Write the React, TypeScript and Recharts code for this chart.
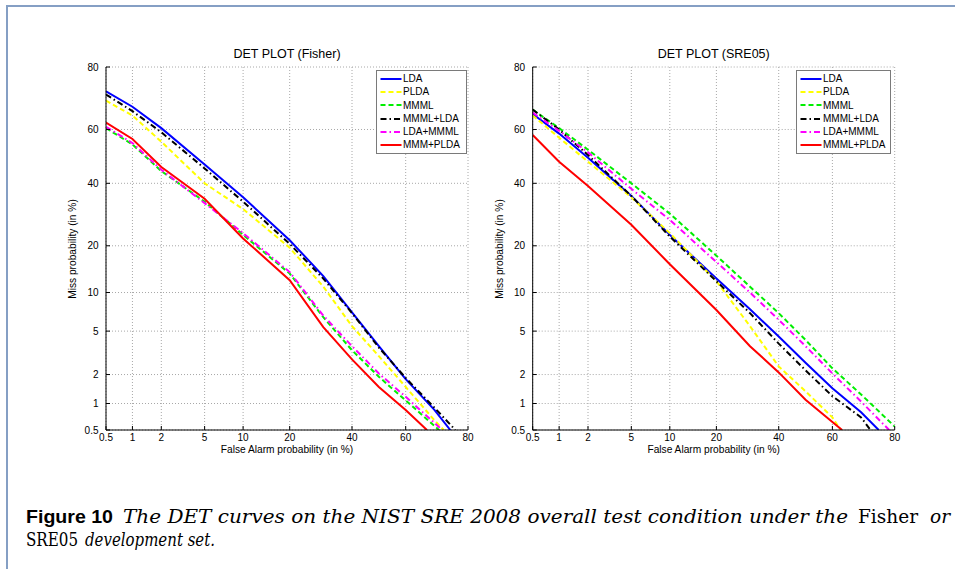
import React from 'react';
import { LineChart, Line, XAxis, YAxis, CartesianGrid, Legend } from 'recharts';

// DET axes: tick labels in %, plotted on a normal-deviate (probit) scale
const detTicks = [0.5, 1, 2, 5, 10, 20, 40, 60, 80];

// Fisher development set: [false alarm %, miss %]
const fisherLDA: [number, number][] = [[0.5, 73], [1, 68], [2, 60.5], [5, 47], [10, 35], [20, 21.5], [30, 13], [40, 7.1], [50, 3.7], [60, 1.8], [70, 0.85], [75, 0.5]];
const fisherPLDA: [number, number][] = [[0.5, 70], [1, 65], [2, 55.5], [5, 40], [10, 31], [20, 19.5], [30, 11], [40, 5.5], [50, 3], [60, 1.5], [70, 0.65], [73, 0.5]];
const fisherMMML: [number, number][] = [[0.5, 60.5], [1, 54.5], [2, 44.5], [5, 33.5], [10, 23], [20, 13.5], [30, 6.5], [40, 3.4], [50, 1.9], [60, 1.08], [71.5, 0.5]];
const fisherMMMLLDA: [number, number][] = [[0.5, 72], [1, 66.5], [2, 59], [5, 45.5], [10, 33.5], [20, 20.5], [30, 12.5], [40, 7], [50, 3.6], [60, 1.85], [70, 0.9], [76.5, 0.5]];
const fisherLDAMMML: [number, number][] = [[0.5, 61], [1, 55], [2, 45], [5, 33], [10, 23.5], [20, 13.8], [30, 6.7], [40, 3.7], [50, 2.05], [60, 1.18], [72.5, 0.5]];
const fisherMMMPLDA: [number, number][] = [[0.5, 62.5], [1, 56.5], [2, 46], [5, 34.5], [10, 22], [20, 12.2], [30, 5.4], [40, 2.8], [50, 1.5], [60, 0.85], [67.5, 0.5]];

// SRE05 development set
const sreLDA: [number, number][] = [[0.5, 65.5], [1, 58.5], [2, 49.5], [5, 35.5], [10, 23], [20, 12.5], [30, 7.5], [40, 4.5], [50, 2.6], [60, 1.45], [70, 0.8], [75.5, 0.5]];
const srePLDA: [number, number][] = [[0.5, 65], [1, 57], [2, 48], [5, 35], [10, 23.5], [20, 12], [30, 5.5], [40, 2.4], [50, 1.35], [60, 0.7], [63, 0.5]];
const sreMMML: [number, number][] = [[0.5, 67], [1, 60.5], [2, 52.5], [5, 40], [10, 29.5], [20, 17.5], [30, 11], [40, 7], [50, 4.2], [60, 2.3], [70, 1.25], [80, 0.55]];
const sreMMMLLDA: [number, number][] = [[0.5, 67], [1, 60], [2, 50.5], [5, 35.5], [10, 22.5], [20, 12], [30, 7], [40, 3.9], [50, 2.2], [60, 1.2], [70, 0.7], [73, 0.5]];
const sreLDAMMML: [number, number][] = [[0.5, 66], [1, 59.5], [2, 51.5], [5, 38], [10, 27.5], [20, 16], [30, 10], [40, 6.2], [50, 3.7], [60, 2.05], [70, 1.05], [78.5, 0.5]];
const sreMMMLPLDA: [number, number][] = [[0.5, 58], [1, 48], [2, 39], [5, 26], [10, 15.5], [20, 7.4], [30, 3.7], [40, 2.1], [50, 1.1], [60, 0.62], [63.5, 0.5]];

const SANS = '"Liberation Sans", Arial, Helvetica, sans-serif';
const SERIF = '"DejaVu Serif", serif';

// inverse normal CDF (Acklam), input in percent
function probit(pct: number): number {
  const p = pct / 100;
  const a = [-39.69683028665376, 220.9460984245205, -275.9285104469687, 138.357751867269, -30.66479806614716, 2.506628277459239];
  const b = [-54.47609879822406, 161.5858368580409, -155.6989798598866, 66.80131188771972, -13.28068155288572];
  const c = [-0.007784894002430293, -0.3223964580411365, -2.400758277161838, -2.549732539343734, 4.374664141464968, 2.938163982698783];
  const d = [0.007784695709041462, 0.3224671290700398, 2.445134137142996, 3.754408661907416];
  const lo = 0.02425;
  if (p < lo) {
    const q = Math.sqrt(-2 * Math.log(p));
    return (((((c[0] * q + c[1]) * q + c[2]) * q + c[3]) * q + c[4]) * q + c[5]) / ((((d[0] * q + d[1]) * q + d[2]) * q + d[3]) * q + 1);
  }
  if (p > 1 - lo) {
    const q = Math.sqrt(-2 * Math.log(1 - p));
    return -(((((c[0] * q + c[1]) * q + c[2]) * q + c[3]) * q + c[4]) * q + c[5]) / ((((d[0] * q + d[1]) * q + d[2]) * q + d[3]) * q + 1);
  }
  const q = p - 0.5;
  const r = q * q;
  return ((((((a[0] * r + a[1]) * r + a[2]) * r + a[3]) * r + a[4]) * r + a[5]) * q) / (((((b[0] * r + b[1]) * r + b[2]) * r + b[3]) * r + b[4]) * r + 1);
}

const tickPos = detTicks.map(probit);
const domain: [number, number] = [tickPos[0], tickPos[tickPos.length - 1]];
const tickLabel = (v: number) => {
  let best = 0;
  tickPos.forEach((t, i) => { if (Math.abs(t - v) < Math.abs(tickPos[best] - v)) best = i; });
  return String(detTicks[best]);
};
const blank = () => '';

const toPts = (pts: [number, number][]) => pts.map(([fa, miss]) => ({ x: probit(fa), y: probit(miss) }));

type Series = { name: string; color: string; dash?: string; points: [number, number][] };

const DASH = '5 3';
const DASHDOT = '6 3 1.5 3';

const fisherSeries: Series[] = [
  { name: 'LDA', color: '#0000ff', points: fisherLDA },
  { name: 'PLDA', color: '#ffff00', dash: DASH, points: fisherPLDA },
  { name: 'MMML', color: '#00ee00', dash: DASH, points: fisherMMML },
  { name: 'MMML+LDA', color: '#000000', dash: DASHDOT, points: fisherMMMLLDA },
  { name: 'LDA+MMML', color: '#ff00ff', dash: DASHDOT, points: fisherLDAMMML },
  { name: 'MMM+PLDA', color: '#ff0000', points: fisherMMMPLDA },
];

const sreSeries: Series[] = [
  { name: 'LDA', color: '#0000ff', points: sreLDA },
  { name: 'PLDA', color: '#ffff00', dash: DASH, points: srePLDA },
  { name: 'MMML', color: '#00ee00', dash: DASH, points: sreMMML },
  { name: 'MMML+LDA', color: '#000000', dash: DASHDOT, points: sreMMMLLDA },
  { name: 'LDA+MMML', color: '#ff00ff', dash: DASHDOT, points: sreLDAMMML },
  { name: 'MMML+PLDA', color: '#ff0000', points: sreMMMLPLDA },
];

const LegendBox = ({ items, width }: { items: Series[]; width: number }) => (
  <div style={{ width, border: '1px solid #7a7a7a', background: '#fff', boxSizing: 'border-box', padding: '1px 0', fontFamily: SANS, fontSize: 10, color: '#000' }}>
    {items.map((s) => (
      <div key={s.name} style={{ display: 'flex', alignItems: 'center', height: 13.3, lineHeight: '13.3px' }}>
        <svg width={25} height={6} style={{ flex: 'none' }}>
          <line x1={3.5} x2={24.5} y1={3} y2={3} stroke={s.color} strokeWidth={2} strokeDasharray={s.dash} />
        </svg>
        <span style={{ marginLeft: 1, whiteSpace: 'nowrap' }}>{s.name}</span>
      </div>
    ))}
  </div>
);

const tickStyle = { fontFamily: SANS, fontSize: 10, fill: '#000' };

type PlotProps = {
  title: string;
  series: Series[];
  left: number;
  width: number;
  marginLeft: number;
  legendLeft: number;
  legendWidth: number;
};

const DetPlot = ({ title, series, left, width, marginLeft, legendLeft, legendWidth }: PlotProps) => {
  const plotLeft = left + marginLeft + 40;
  const plotCenter = plotLeft + 181;
  return (
    <>
      <div style={{ position: 'absolute', left, top: 0 }}>
        <LineChart width={width} height={470} margin={{ top: 67, right: width - marginLeft - 40 - 362, left: marginLeft, bottom: 10 }}>
          <CartesianGrid stroke="#a8a8a8" strokeDasharray="1 2" />
          <XAxis xAxisId={0} type="number" dataKey="x" domain={domain} ticks={tickPos} allowDataOverflow
            tickFormatter={tickLabel} height={30} tickSize={-4} tickMargin={7.8} interval={0}
            stroke="#000" tick={tickStyle} />
          <XAxis xAxisId="top" orientation="top" type="number" dataKey="x" domain={domain} ticks={tickPos} allowDataOverflow
            tickFormatter={blank} height={0} tickSize={-4} interval={0} stroke="#000" tick={tickStyle} />
          <YAxis yAxisId={0} type="number" dataKey="y" domain={domain} ticks={tickPos} allowDataOverflow
            tickFormatter={tickLabel} width={40} tickSize={-4} tickMargin={11.5} interval={0}
            stroke="#000" tick={tickStyle} />
          <YAxis yAxisId="right" orientation="right" type="number" dataKey="y" domain={domain} ticks={tickPos} allowDataOverflow
            tickFormatter={blank} width={0} tickSize={-4} interval={0} stroke="#000" tick={tickStyle} />
          <Legend layout="vertical" align="center" verticalAlign="middle"
            wrapperStyle={{ left: legendLeft - left, top: 70, width: legendWidth }}
            content={() => <LegendBox items={series} width={legendWidth} />} />
          {series.map((s) => (
            <Line key={s.name} data={toPts(s.points)} dataKey="y" name={s.name} type="linear"
              stroke={s.color} strokeWidth={2} strokeDasharray={s.dash} dot={false}
              activeDot={false} isAnimationActive={false} />
          ))}
        </LineChart>
      </div>
      <div style={{ position: 'absolute', left: plotCenter - 150, top: 46, width: 300, textAlign: 'center', fontFamily: SANS, fontSize: 12.5, lineHeight: '16px' }}>
        {title}
      </div>
      <div style={{ position: 'absolute', left: plotCenter - 150, top: 443, width: 300, textAlign: 'center', fontFamily: SANS, fontSize: 10.2, lineHeight: '14px' }}>
        False Alarm probability (in %)
      </div>
      <div style={{ position: 'absolute', left: plotLeft - 33, top: 249, transform: 'translate(-50%, -50%) rotate(-90deg)', whiteSpace: 'nowrap', fontFamily: SANS, fontSize: 10.2, lineHeight: '14px' }}>
        Miss probability (in %)
      </div>
    </>
  );
};

export default function App() {
  return (
    <div style={{ position: 'absolute', left: 0, top: 0, width: 955, height: 569, background: '#fff', overflow: 'hidden' }}>
      <div style={{ position: 'absolute', left: 6, top: 5, width: 960, height: 580, borderLeft: '2px solid #859fc4', borderTop: '2px solid #859fc4' }} />
      <DetPlot title="DET PLOT (Fisher)" series={fisherSeries} left={0} width={480} marginLeft={66} legendLeft={376} legendWidth={91} />
      <DetPlot title="DET PLOT (SRE05)" series={sreSeries} left={480} width={475} marginLeft={12.7} legendLeft={796} legendWidth={95} />
      <svg width={955} height={569} style={{ position: 'absolute', left: 0, top: 0, pointerEvents: 'none' }}>
        <text x={26} y={523} fontFamily={SANS} fontWeight="bold" fontSize={18.5} textLength={87} lengthAdjust="spacingAndGlyphs">Figure 10</text>
        <text x={123} y={523} fontFamily={SERIF} fontStyle="italic" fontSize={18} textLength={725} lengthAdjust="spacingAndGlyphs">The DET curves on the NIST SRE 2008 overall test condition under the</text>
        <text x={858} y={523} fontFamily={SERIF} fontSize={18} textLength={60} lengthAdjust="spacingAndGlyphs">Fisher</text>
        <text x={930} y={523} fontFamily={SERIF} fontStyle="italic" fontSize={18} textLength={20} lengthAdjust="spacingAndGlyphs">or</text>
        <text x={26} y={546} fontFamily={SERIF} fontSize={18} textLength={52} lengthAdjust="spacingAndGlyphs">SRE05</text>
        <text x={85} y={546} fontFamily={SERIF} fontStyle="italic" fontSize={18} textLength={130} lengthAdjust="spacingAndGlyphs">development set.</text>
      </svg>
    </div>
  );
}
